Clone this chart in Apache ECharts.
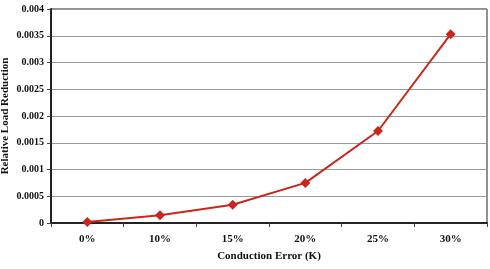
<!DOCTYPE html>
<html>
<head>
<meta charset="utf-8">
<script src="https://cdn.jsdelivr.net/npm/echarts@6/dist/echarts.min.js"></script>
<style>
  html, body { margin: 0; padding: 0; background: #fff; }
  #main { width: 490px; height: 269px; }
</style>
</head>
<body>
<div id="main"></div>
<script>
// data
var categories = ["0%", "10%", "15%", "20%", "25%", "30%"];
var loadReduction = [0.00002, 0.000145, 0.00034, 0.00075, 0.00172, 0.00353];

var myChart = echarts.init(document.getElementById("main"));
var font = "'Liberation Serif', 'Times New Roman', serif";

myChart.setOption({
  animation: false,
  grid: {
    left: 51,
    right: 3,
    top: 9,
    bottom: 46,
    containLabel: false,
    outerBoundsMode: "none",
    show: true,
    borderColor: "#222",
    borderWidth: 1
  },
  xAxis: {
    type: "category",
    data: categories,
    boundaryGap: true,
    name: "Conduction Error (K)",
    nameLocation: "middle",
    nameGap: 28,
    nameMoveOverlap: false,
    nameTextStyle: { fontFamily: font, fontWeight: "bold", fontSize: 11, color: "#111" },
    axisLine: { show: true, lineStyle: { color: "#222", width: 2 } },
    axisTick: { show: true, alignWithLabel: false, length: 4, lineStyle: { color: "#444" } },
    axisLabel: { fontFamily: font, fontWeight: "bold", fontSize: 11, color: "#111", margin: 11 }
  },
  yAxis: {
    type: "value",
    min: 0,
    max: 0.004,
    interval: 0.0005,
    name: "Relative Load Reduction",
    nameLocation: "middle",
    nameGap: 40,
    nameMoveOverlap: false,
    nameTextStyle: { fontFamily: font, fontWeight: "bold", fontSize: 11, color: "#111" },
    axisLine: { show: true, lineStyle: { color: "#222", width: 2 } },
    axisTick: { show: true, length: 4, lineStyle: { color: "#444" } },
    axisLabel: {
      fontFamily: font, fontWeight: "bold", fontSize: 10, color: "#111", margin: 7,
      formatter: function (v) { return String(parseFloat(v.toFixed(4))); }
    },
    splitLine: { show: true, lineStyle: { color: "#999", width: 1 } }
  },
  series: [
    {
      type: "line",
      data: loadReduction,
      symbol: "diamond",
      symbolSize: 10,
      lineStyle: { color: "#c9271d", width: 2 },
      itemStyle: { color: "#c9271d" }
    }
  ]
});
</script>
</body>
</html>
